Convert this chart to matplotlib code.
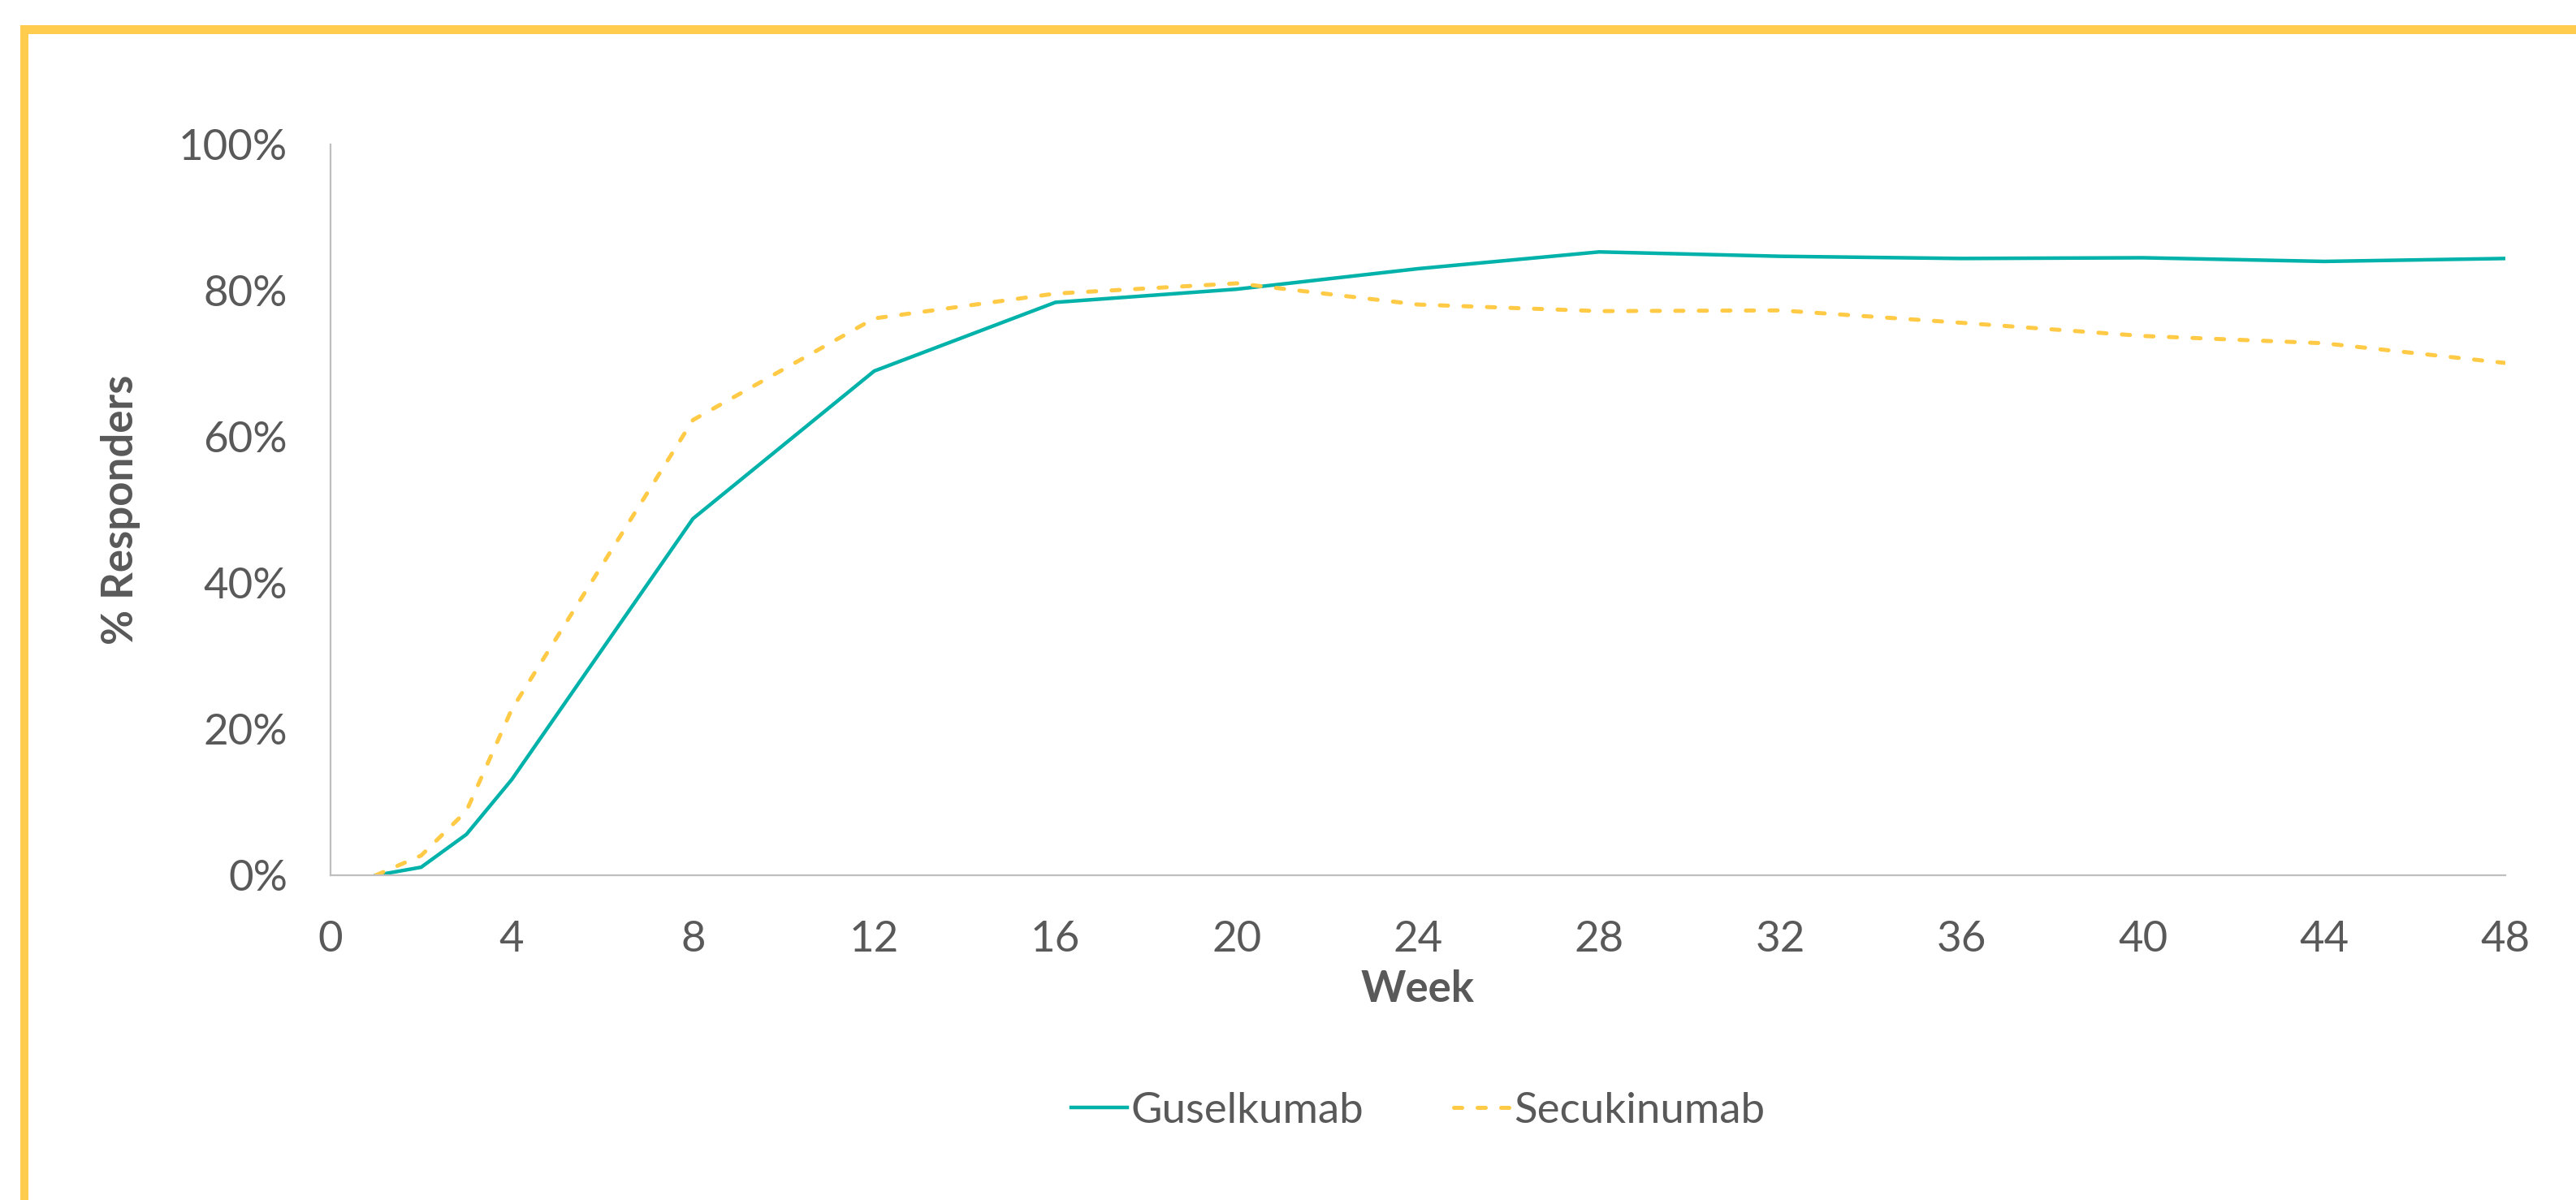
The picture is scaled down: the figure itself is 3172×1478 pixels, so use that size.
import matplotlib.pyplot as plt
from matplotlib.patches import Rectangle
from matplotlib.ticker import PercentFormatter

weeks = [1, 2, 3, 4, 8, 12, 16, 20, 24, 28, 32, 36, 40, 44, 48]

guselkumab = [
    0.0, 1.1, 5.6, 13.1, 48.8, 69.0, 78.4, 80.2,
    83.0, 85.3, 84.7, 84.4, 84.5, 84.0, 84.4,
]

secukinumab = [
    0.0, 2.7, 8.8, 22.7, 62.3, 76.2, 79.6, 81.0,
    78.1, 77.2, 77.3, 75.6, 73.8, 72.8, 70.1,
]

x_ticks = [0, 4, 8, 12, 16, 20, 24, 28, 32, 36, 40, 44, 48]
y_ticks = [0, 20, 40, 60, 80, 100]

TEAL = "#00B2A9"
YELLOW = "#FFCA45"
TEXT = "#595959"
SPINE = "#BFBFBF"
FONT_SIZE = 19


def plot_responders() -> None:
    plt.rcParams["font.family"] = ["Lato", "DejaVu Sans"]

    figure = plt.figure(figsize=(15.86, 7.39), dpi=200)
    axis = figure.add_axes([0.1283, 0.2706, 0.8443, 0.6090])

    axis.plot(
        weeks,
        guselkumab,
        color=TEAL,
        linewidth=1.6,
        label="Guselkumab",
    )
    axis.plot(
        weeks,
        secukinumab,
        color=YELLOW,
        linewidth=1.8,
        linestyle=(0, (2.0, 3.8)),
        dash_capstyle="round",
        label="Secukinumab",
    )

    axis.set_xlim(0, 48)
    axis.set_ylim(0, 100)
    axis.set_xticks(x_ticks)
    axis.set_yticks(y_ticks)
    axis.yaxis.set_major_formatter(PercentFormatter(decimals=0))

    axis.tick_params(
        axis="x",
        length=0,
        pad=20,
        labelsize=FONT_SIZE,
        labelcolor=TEXT,
    )
    axis.tick_params(
        axis="y",
        length=0,
        pad=19,
        labelsize=FONT_SIZE,
        labelcolor=TEXT,
    )

    for side in ["top", "right"]:
        axis.spines[side].set_visible(False)
    for side in ["left", "bottom"]:
        axis.spines[side].set_color(SPINE)
        axis.spines[side].set_linewidth(0.8)

    axis.set_xlabel(
        "Week",
        fontsize=FONT_SIZE,
        fontweight="bold",
        color=TEXT,
        labelpad=5,
    )
    axis.set_ylabel(
        "% Responders",
        fontsize=FONT_SIZE,
        fontweight="bold",
        color=TEXT,
        labelpad=17,
    )

    figure.legend(
        loc="center",
        bbox_to_anchor=(0.5505, 0.0744),
        ncol=2,
        frameon=False,
        fontsize=FONT_SIZE,
        labelcolor=TEXT,
        handlelength=1.3,
        handletextpad=0.1,
        columnspacing=2.1,
    )

    # yellow frame along the top and left edges
    figure.add_artist(
        Rectangle(
            (25 / 3172, 1 - 42 / 1478),
            1.0,
            11 / 1478,
            transform=figure.transFigure,
            color="#FFCC4D",
            linewidth=0,
        )
    )
    figure.add_artist(
        Rectangle(
            (25 / 3172, 0.0),
            10 / 3172,
            1 - 31 / 1478,
            transform=figure.transFigure,
            color="#FFCC4D",
            linewidth=0,
        )
    )

    figure.savefig("out.png", dpi=200, facecolor="white")


plot_responders()
